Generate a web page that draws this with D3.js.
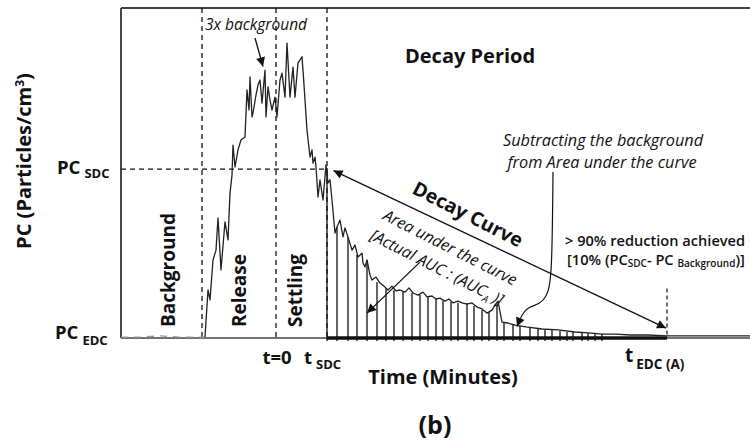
<!DOCTYPE html>
<head>
<meta charset="utf-8">
<style>
  body { margin: 0; background: #fff; }
  text { font-family: "Open Sans", Lato, sans-serif; fill: #111; }
  .b { font-weight: bold; }
  .i { font-style: italic; }
</style>
<script src="https://d3js.org/d3.v7.min.js"></script>
</head>
<body>
<div id="chart"></div>
<script>

// particle concentration trace (time in minutes relative to t=0, PC arbitrary units)
var timeMin = [-31, -27.2, -23.2, -19.2, -15.2, -14.2, -13.6, -13.2, -12.6, -12, -11.6, -11, -10.2, -9.6, -9.2,
  -8.8, -8.6, -8.2, -7.6, -7, -6.2, -5.8, -5.4, -5.2, -4.8, -4.6, -4, -3.6, -3.2, -2.8, -2.2, -2, -1.6, -1.2,
  -0.8, -0.2, 0.2, 0.8, 1.2, 1.8, 2.2, 2.8, 3.4, 3.8, 4.4, 5.2, 5.4, 6.2, 6.8, 7.2, 7.4, 7.8, 8, 8.4, 8.8,
  9.4, 10, 10.4, 10.8, 11.2, 11.8, 12.2, 12.8, 13.4, 13.8, 14.4, 15.2, 15.8, 16.4, 17.2, 17.4, 17.8, 18.2,
  18.8, 19.2, 20, 20.8, 21.6, 22.4, 23.2, 24, 24.8, 25.8, 26.6, 27.4, 28.4, 29.4, 30.2, 31.2, 32, 32.8, 33.8,
  34.6, 35.4, 36.4, 37.2, 38.2, 39.2, 40.2, 41.2, 42.2, 43.2, 43.8, 44.4, 45.2, 46.4, 47.8, 50, 53.2, 56.4,
  59.8, 62.4, 65.2, 68, 70.8, 74.4, 78.2, 84.8, 90, 94.8];
var pcVal = [0.3, 0.3, 0.7, 0.3, 0.3, 0.3, 16, 12.7, 26, 29.3, 40, 22.7, 38.7, 32.7, 48.3,
  54.3, 64.3, 57, 62.7, 66, 67, 82.7, 76, 87, 73.7, 75, 81, 84.3, 86, 78.3, 89.3, 73.7, 83.7, 79.3,
  76, 80.3, 73.7, 86, 88.3, 80.3, 98.3, 80.3, 90.3, 80.3, 91.7, 93.7, 89.3, 69.3, 60.3, 62.7, 58.3, 60.3, 57, 47,
  52.7, 46, 57.7, 51.7, 52.7, 46, 35, 37, 39.3, 33.7, 36.7, 33.7, 29.3, 31, 27, 28.3, 25, 23.7, 26,
  21, 19.3, 20.3, 18.3, 17.3, 16, 17.3, 15.7, 16, 15.3, 16.7, 15, 14.3, 15.3, 13.7, 14, 13, 13.3, 12.3,
  13, 11.7, 12.3, 11.7, 11.3, 11.7, 10.3, 9.7, 8.3, 9.3, 11, 12.3, 5.3, 5, 4.3, 3.7, 3, 2.7,
  2, 1.7, 1.3, 1.3, 1, 1, 0.7, 0.7, 0.7, 0.7];

// sampled bars under the decay curve (area under the curve)
var barT = [10.2, 12.2, 14.4, 16.2, 18.2, 20.2, 22, 23.6, 25.4, 27.2, 28.8, 30.4, 32, 33.4, 35, 36.4, 38.2,
  39.6, 41.2, 42.6, 44.2, 45.6, 47.4, 48.8, 50.8, 52.4, 53.8, 55.2, 56.8, 58.2, 59.4, 61.2, 62.4, 63.8, 65.2];
var barPC = [56.7, 37, 33.7, 27.7, 26, 18.7, 16.7, 16, 15.7, 15, 14.3, 13.7, 13, 12.3, 12, 11.7, 11.7,
  10.7, 9.3, 8.7, 11, 5.3, 4.7, 4, 3.3, 3, 2.7, 2.7, 2.3, 2, 2, 1.7, 1.7, 1.3, 1.3];

// key times and levels
var tRelease = -14.8, tZero = 0, tSDC = 10.2, tEDC = 78.2;
var pcSDC = 56.3;

// periods (rotated labels): name, centre time
var periods = [
  { name: "Background", t: -21.4 },
  { name: "Release", t: -7.2 },
  { name: "Settling", t: 4 }
];

var w = 750, h = 444;

var svg = d3.select("#chart").append("svg")
  .attr("width", w)
  .attr("height", h);

svg.append("rect").attr("width", w).attr("height", h).attr("fill", "#fff");

var x = d3.scaleLinear().domain([-31, 94.8]).range([121, 750]);
var y = d3.scaleLinear().domain([0, 110]).range([338, 8]);

var defs = svg.append("defs");
defs.append("marker")
  .attr("id", "arr")
  .attr("viewBox", "0 0 10 10")
  .attr("refX", 10).attr("refY", 5)
  .attr("markerWidth", 12).attr("markerHeight", 9)
  .attr("markerUnits", "userSpaceOnUse")
  .attr("orient", "auto-start-reverse")
  .append("path")
  .attr("d", "M0,0 L10,5 L0,10 Z")
  .attr("fill", "#111");

// frame
svg.append("line")
  .attr("x1", x(-31)).attr("x2", x(-31))
  .attr("y1", y(110)).attr("y2", y(0))
  .attr("stroke", "#333").attr("stroke-width", 1.8);
svg.append("line")
  .attr("x1", x(-31)).attr("x2", w)
  .attr("y1", y(110)).attr("y2", y(110))
  .attr("stroke", "#444").attr("stroke-width", 2);
svg.append("line")
  .attr("x1", x(-31)).attr("x2", w)
  .attr("y1", y(0)).attr("y2", y(0))
  .attr("stroke", "#444").attr("stroke-width", 1.5);

// dashed guides
var dash = "5,4";
[tRelease, tZero, tSDC].forEach(function(t) {
  svg.append("line")
    .attr("x1", x(t)).attr("x2", x(t))
    .attr("y1", y(110)).attr("y2", y(0))
    .attr("stroke", "#111").attr("stroke-width", 1.3)
    .attr("stroke-dasharray", dash);
});
svg.append("line")
  .attr("x1", x(-31)).attr("x2", x(tSDC))
  .attr("y1", y(pcSDC)).attr("y2", y(pcSDC))
  .attr("stroke", "#111").attr("stroke-width", 1.3)
  .attr("stroke-dasharray", dash);
svg.append("line")
  .attr("x1", x(tEDC)).attr("x2", x(tEDC))
  .attr("y1", y(16.5)).attr("y2", y(0))
  .attr("stroke", "#111").attr("stroke-width", 1.2)
  .attr("stroke-dasharray", "4,3");

// bars
svg.selectAll(".bar")
  .data(barT)
  .enter()
  .append("line")
  .attr("class", "bar")
  .attr("x1", function(d) { return x(d); })
  .attr("x2", function(d) { return x(d); })
  .attr("y1", y(0) + 3)
  .attr("y2", function(d, i) { return y(barPC[i]); })
  .attr("stroke", "#111")
  .attr("stroke-width", 1.3);

// thick baseline of the decay period
svg.append("line")
  .attr("x1", x(tSDC)).attr("x2", x(tEDC))
  .attr("y1", y(0)).attr("y2", y(0))
  .attr("stroke", "#111").attr("stroke-width", 3.5);

// trace
var pts = timeMin.map(function(t, i) { return [t, pcVal[i]]; });
var line = d3.line()
  .x(function(d) { return x(d[0]); })
  .y(function(d) { return y(d[1]); });

svg.append("path")
  .datum(pts.filter(function(d) { return d[0] <= -14.2; }))
  .attr("d", line)
  .attr("fill", "none")
  .attr("stroke", "#999")
  .attr("stroke-width", 1.3)
  .attr("stroke-dasharray", "7,6");

svg.append("path")
  .datum(pts.filter(function(d) { return d[0] >= -14.2; }))
  .attr("d", line)
  .attr("fill", "none")
  .attr("stroke", "#222")
  .attr("stroke-width", 1.3)
  .attr("stroke-linejoin", "round");

// arrows
function arrow(a, b, both) {
  var l = svg.append("line")
    .attr("x1", x(a[0])).attr("y1", y(a[1]))
    .attr("x2", x(b[0])).attr("y2", y(b[1]))
    .attr("stroke", "#111").attr("stroke-width", 1.3)
    .attr("marker-end", "url(#arr)");
  if (both) l.attr("marker-start", "url(#arr)");
}
arrow([-4.2, 100], [-2.6, 90.5]);
arrow([11.5, 55.8], [78, 3.3], true);
arrow([28.8, 25.3], [18.2, 8.3]);

var callout = [[55.4, 55.3], [55.2, 22], [54.5, 14.6], [52.8, 11.3], [50.4, 10.3], [49.2, 8], [48.2, 3.8]];
svg.append("path")
  .datum(callout)
  .attr("d", d3.line().curve(d3.curveBasis)
    .x(function(d) { return x(d[0]); })
    .y(function(d) { return y(d[1]); }))
  .attr("fill", "none")
  .attr("stroke", "#111")
  .attr("stroke-width", 1.2)
  .attr("marker-end", "url(#arr)");

// period labels
svg.selectAll(".period")
  .data(periods)
  .enter()
  .append("text")
  .attr("class", "b period")
  .attr("transform", function(d) { return "translate(" + (x(d.t) + 6) + "," + 327 + ") rotate(-90)"; })
  .style("font-size", "19px")
  .text(function(d) { return d.name; });

// y axis label
var yl = svg.append("text")
  .attr("class", "b")
  .attr("transform", "translate(31,161) rotate(-90)")
  .attr("text-anchor", "middle")
  .style("font-size", "20px");
yl.append("tspan").text("PC (Particles/cm");
yl.append("tspan").attr("dy", -7).style("font-size", "12px").text("3");
yl.append("tspan").attr("dy", 7).text(")");

// level labels
function subLabel(px, py, main, sub, size, subSize, subDy, gap) {
  var t = svg.append("text").attr("class", "b").attr("x", px).attr("y", py).style("font-size", size + "px");
  t.append("tspan").text(main);
  t.append("tspan").attr("dx", gap).attr("dy", subDy).style("font-size", subSize + "px").text(sub);
}
subLabel(57, y(pcSDC) + 5, "PC", "SDC", 18.5, 13, 4, 4);
subLabel(55, y(0) + 1, "PC", "EDC", 18.5, 13, 6, 4);
subLabel(304, 364, "t", "SDC", 18.5, 13, 5, 4);
subLabel(625, 362, "t", "EDC (A)", 19, 13.5, 7, 3);

svg.append("text")
  .attr("class", "b")
  .attr("x", x(tZero) + 1).attr("y", 364)
  .attr("text-anchor", "middle")
  .style("font-size", "18.5px")
  .text("t=0");

svg.append("text")
  .attr("class", "b")
  .attr("x", 443).attr("y", 384)
  .attr("text-anchor", "middle")
  .style("font-size", "20px")
  .text("Time (Minutes)");

svg.append("text")
  .attr("class", "b")
  .attr("x", 435).attr("y", 434)
  .attr("text-anchor", "middle")
  .style("font-size", "25px")
  .text("(b)");

svg.append("text")
  .attr("class", "b")
  .attr("x", 405).attr("y", 63)
  .style("font-size", "20px")
  .text("Decay Period");

svg.append("text")
  .attr("class", "i")
  .attr("x", 205).attr("y", 30)
  .style("font-size", "15.5px")
  .text("3x background");

svg.append("text")
  .attr("class", "i")
  .attr("x", 603).attr("y", 146)
  .attr("text-anchor", "middle")
  .style("font-size", "16.3px")
  .text("Subtracting the background");
svg.append("text")
  .attr("class", "i")
  .attr("x", 602).attr("y", 168)
  .attr("text-anchor", "middle")
  .style("font-size", "16.3px")
  .text("from Area under the curve");

svg.append("text")
  .attr("class", "b")
  .attr("transform", "translate(411,193) rotate(27)")
  .style("font-size", "19.5px")
  .text("Decay Curve");

svg.append("text")
  .attr("class", "i")
  .attr("transform", "translate(382,219) rotate(27)")
  .style("font-size", "16px")
  .text("Area under the curve");
var auc = svg.append("text")
  .attr("class", "i")
  .attr("transform", "translate(369,239) rotate(27)")
  .style("font-size", "16px");
auc.append("tspan").text("[Actual AUC : (AUC");
auc.append("tspan").attr("dy", 4).style("font-size", "10px").text("A");
auc.append("tspan").attr("dy", -4).text(" )]");

svg.append("text")
  .attr("x", 565).attr("y", 246)
  .style("font-size", "14.6px")
  .style("font-weight", 600)
  .text("> 90% reduction  achieved");
var red = svg.append("text")
  .attr("x", 567).attr("y", 265)
  .style("font-size", "14.6px")
  .style("font-weight", 600);
red.append("tspan").text("[10% (PC");
red.append("tspan").attr("dy", 2).style("font-size", "10px").text("SDC");
red.append("tspan").attr("dy", -2).text("- PC ");
red.append("tspan").attr("dy", 2).style("font-size", "10px").text("Background");
red.append("tspan").attr("dy", -2).text(")]");

</script>
</body>
